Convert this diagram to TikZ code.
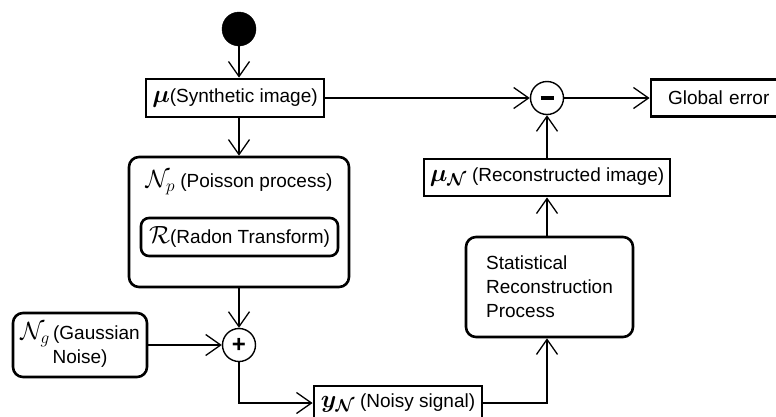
\documentclass[tikz,border=0pt]{standalone}
\usepackage{amsmath}
\usepackage{bm}
\usepackage{fontspec}
\setmainfont{Liberation Sans}
\usetikzlibrary{arrows.meta}
\newcommand\mth[1]{{\fontsize{25}{24}\selectfont$#1$}}
\begin{document}
\begin{tikzpicture}[x=1pt,y=-1pt,
  lbl/.style={font=\fontsize{19}{24}\selectfont},
  sqbox/.style={draw, line width=2.8pt, inner sep=0pt, lbl},
  rbox/.style={draw, line width=2.6pt, rounded corners=10pt, inner sep=0pt, lbl},
  opcirc/.style={draw, circle, line width=1.4pt, inner sep=0pt, minimum size=33pt},
  conn/.style={line width=1.3pt, -{Straight Barb[length=15pt,width=21pt,line width=1.3pt]}},
  plainline/.style={line width=1.3pt}]
\useasboundingbox (0,0) rectangle (776,416);
\fill[white] (0,0) rectangle (776,416);

\node[circle, fill=black, draw=black, minimum size=34pt, inner sep=0pt] (start) at (239,29) {};
\node[sqbox, minimum width=178pt, minimum height=38pt] (syn) at (235,98) {\mth{\bm{\mu}}(Synthetic image)};
\node[rbox, minimum width=220pt, minimum height=130pt] (pois) at (239,222) {};
\node[lbl] (poistxt) at (239,183) {\mth{\mathcal{N}_p} (Poisson process)};
\node[rbox, rounded corners=8pt, minimum width=197pt, minimum height=38pt] (radon) at (239.5,237) {\mth{\mathcal{R}}(Radon Transform)};
\node[opcirc] (plus) at (239,345) {\fontsize{24}{24}\selectfont\bfseries +};
\node[rbox, minimum width=134pt, minimum height=64pt, align=center] (gauss) at (80,345) {\mth{\mathcal{N}_g}\,(Gaussian\\Noise)};
\node[sqbox, minimum width=168pt, minimum height=34pt] (noisy) at (398,403) {\mth{\bm{y}_{\bm{\mathcal{N}}}} (Noisy signal)};
\node[opcirc] (minus) at (547,98) {\rule[0.3pt]{13pt}{4pt}};
\node[sqbox, minimum width=139pt, minimum height=37pt, text width=139pt, align=left] (glob) at (720.5,98) {\hspace*{17pt}Global error};
\node[sqbox, minimum width=246pt, minimum height=37pt] (recon) at (547,177.5) {\mth{\bm{\mu}_{\bm{\mathcal{N}}}} (Reconstructed image)};
\node[rbox, minimum width=167pt, minimum height=100pt, align=left] (stat) at (549.5,287) {Statistical\\Reconstruction\\Process};

\draw[conn] (start.south) -- (start.south |- syn.north);
\draw[conn] (start |- syn.south) -- (pois.north);
\draw[conn] (pois.south) -- (plus.north);
\draw[conn] (gauss.east) -- (plus.west);
\draw[conn] (plus.south) |- (noisy.west);
\draw[conn] (noisy.east) -| (stat.south -| minus);
\draw[conn] (stat.north -| minus) -- (recon.south);
\draw[conn] (recon.north) -- (minus.south);
\draw[conn] (syn.east) -- (minus.west);
\draw[conn] (minus.east) -- (glob.west);
\end{tikzpicture}
\end{document}
